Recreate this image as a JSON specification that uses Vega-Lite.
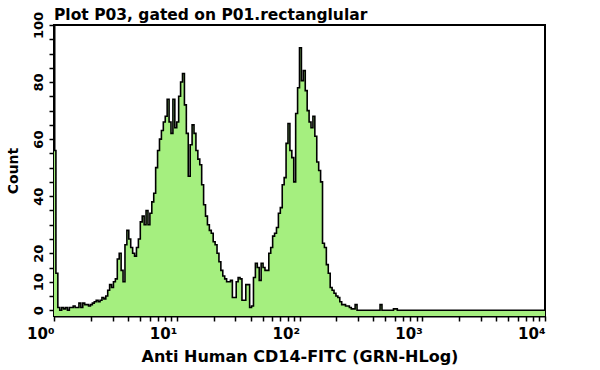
{
  "$schema": "https://vega.github.io/schema/vega-lite/v6.json",
  "autosize": {"type": "none"},
  "padding": {"left": 54, "top": 25, "right": 55, "bottom": 54},
  "width": 491,
  "height": 291,
  "background": "#ffffff",
  "title": {"text": "Plot P03, gated on P01.rectanglular", "anchor": "start", "frame": "group", "offset": 5, "dy": 17, "font": "DejaVu Sans", "fontSize": 15.5, "fontWeight": "bold", "color": "#000000"},
  "config": {
    "view": {"stroke": "#000000", "strokeWidth": 2},
    "axis": {"grid": false, "domainColor": "#000000", "domainWidth": 2, "tickColor": "#000000", "tickWidth": 1.5, "labelFont": "DejaVu Sans", "labelFontWeight": "bold", "labelColor": "#000000", "titleFont": "DejaVu Sans", "titleFontWeight": "bold", "titleColor": "#000000", "labelFlush": false, "labelOverlap": false}
  },
  "data": {"name": "hist"},
  "encoding": {
    "x": {"field": "ch", "type": "quantitative", "scale": {"domain": [0, 256], "nice": false, "zero": false},
      "axis": {"title": "Anti Human CD14-FITC (GRN-HLog)", "titleFontSize": 16, "titlePadding": 7, "labelOverlap": false, "labelBound": false, "labelSeparation": -100,
        "values": [0, 19.27, 30.54, 38.53, 44.73, 49.8, 54.09, 57.8, 61.07, 64, 83.27, 94.54, 102.53, 108.73, 113.8, 118.09, 121.8, 125.07, 128, 147.27, 158.54, 166.53, 172.73, 177.8, 182.09, 185.8, 189.07, 192, 211.27, 222.54, 230.53, 236.73, 241.8, 246.09, 249.8, 253.07, 256],
        "labelExpr": "datum.value === 0 ? '10⁰' : datum.value === 64 ? '10¹' : datum.value === 128 ? '10²' : datum.value === 192 ? '10³' : datum.value === 256 ? '10⁴' : ''", "labelFontSize": 15, "labelAlign": "right", "labelDx": 7, "labelPadding": 5, "tickSize": 5}},
    "y": {"field": "n", "type": "quantitative", "scale": {"domain": [-2, 100], "nice": false, "zero": false},
      "axis": {"title": "Count", "titleFontSize": 14, "titlePadding": 12, "labelOverlap": false, "labelSeparation": -100,
        "values": [0, 5, 10, 15, 20, 25, 30, 35, 40, 45, 50, 55, 60, 65, 70, 75, 80, 85, 90, 95, 100],
        "labelExpr": "indexof([0, 10, 20, 40, 60, 80, 100], datum.value) >= 0 ? datum.label : ''",
        "labelAngle": -90, "labelAlign": "center", "labelBaseline": "bottom", "labelFontSize": 13, "labelPadding": 4, "tickSize": 5}}
  },
  "layer": [
    {
      "mark": {"type": "area", "interpolate": "step-after", "color": "#a5ef7f"},
      "encoding": {"y2": {"datum": -2}}
    },
    {
      "mark": {"type": "line", "interpolate": "step-after", "color": "#000000", "strokeWidth": 1.6}
    }
  ],
  "datasets": {
    "hist": [
      {"ch":0,"n":56},{"ch":1,"n":13},{"ch":2,"n":1},{"ch":3,"n":0},{"ch":4,"n":1},{"ch":5,"n":0.5},{"ch":6,"n":1},{"ch":7,"n":0},{"ch":8,"n":1},{"ch":9,"n":1},
      {"ch":10,"n":1.5},{"ch":11,"n":1},{"ch":12,"n":1},{"ch":13,"n":2.5},{"ch":14,"n":1},{"ch":15,"n":2.5},{"ch":16,"n":2},{"ch":17,"n":2},{"ch":18,"n":1.5},{"ch":19,"n":2},
      {"ch":20,"n":2.5},{"ch":21,"n":3},{"ch":22,"n":3.5},{"ch":23,"n":3},{"ch":24,"n":3.5},{"ch":25,"n":4.5},{"ch":26,"n":4},{"ch":27,"n":5},{"ch":28,"n":7},{"ch":29,"n":9},
      {"ch":30,"n":8},{"ch":31,"n":10},{"ch":32,"n":11},{"ch":33,"n":18},{"ch":34,"n":20},{"ch":35,"n":14},{"ch":36,"n":10},{"ch":37,"n":23},{"ch":38,"n":28},{"ch":39,"n":25},
      {"ch":40,"n":22},{"ch":41,"n":20},{"ch":42,"n":19},{"ch":43,"n":22},{"ch":44,"n":25},{"ch":45,"n":31},{"ch":46,"n":33},{"ch":47,"n":30},{"ch":48,"n":35},{"ch":49,"n":30},
      {"ch":50,"n":34},{"ch":51,"n":38},{"ch":52,"n":41},{"ch":53,"n":50},{"ch":54,"n":56},{"ch":55,"n":60},{"ch":56,"n":63},{"ch":57,"n":66},{"ch":58,"n":68},{"ch":59,"n":74},
      {"ch":60,"n":66},{"ch":61,"n":62},{"ch":62,"n":74},{"ch":63,"n":64},{"ch":64,"n":66},{"ch":65,"n":75},{"ch":66,"n":80},{"ch":67,"n":83},{"ch":68,"n":72},{"ch":69,"n":62},
      {"ch":70,"n":47},{"ch":71,"n":58},{"ch":72,"n":65},{"ch":73,"n":62},{"ch":74,"n":56},{"ch":75,"n":53},{"ch":76,"n":51},{"ch":77,"n":44},{"ch":78,"n":37},{"ch":79,"n":33},
      {"ch":80,"n":30},{"ch":81,"n":28},{"ch":82,"n":27},{"ch":83,"n":24},{"ch":84,"n":23},{"ch":85,"n":20},{"ch":86,"n":17},{"ch":87,"n":14},{"ch":88,"n":12},{"ch":89,"n":11},
      {"ch":90,"n":10},{"ch":91,"n":10},{"ch":92,"n":10.5},{"ch":93,"n":4.5},{"ch":94,"n":4.5},{"ch":95,"n":10},{"ch":96,"n":11.5},{"ch":97,"n":11},{"ch":98,"n":3.5},{"ch":99,"n":3.5},
      {"ch":100,"n":9},{"ch":101,"n":9},{"ch":102,"n":1},{"ch":103,"n":1.5},{"ch":104,"n":11.5},{"ch":105,"n":16.5},{"ch":106,"n":15},{"ch":107,"n":10.5},{"ch":108,"n":16.5},{"ch":109,"n":15},
      {"ch":110,"n":14},{"ch":111,"n":14},{"ch":112,"n":20},{"ch":113,"n":22},{"ch":114,"n":26},{"ch":115,"n":27},{"ch":116,"n":29},{"ch":117,"n":34},{"ch":118,"n":36},{"ch":119,"n":44},
      {"ch":120,"n":46.5},{"ch":121,"n":58.5},{"ch":122,"n":65.5},{"ch":123,"n":56},{"ch":124,"n":53.5},{"ch":125,"n":45},{"ch":126,"n":69},{"ch":127,"n":78},{"ch":128,"n":92},{"ch":129,"n":80.5},
      {"ch":130,"n":84},{"ch":131,"n":77},{"ch":132,"n":70},{"ch":133,"n":66},{"ch":134,"n":64},{"ch":135,"n":68},{"ch":136,"n":61},{"ch":137,"n":52},{"ch":138,"n":49},{"ch":139,"n":45},
      {"ch":140,"n":23.5},{"ch":141,"n":22},{"ch":142,"n":16},{"ch":143,"n":13},{"ch":144,"n":8},{"ch":145,"n":7},{"ch":146,"n":6},{"ch":147,"n":5},{"ch":148,"n":4.5},{"ch":149,"n":3},
      {"ch":150,"n":2},{"ch":151,"n":2},{"ch":152,"n":1.5},{"ch":153,"n":1.5},{"ch":154,"n":1},{"ch":155,"n":0.5},{"ch":156,"n":0.5},{"ch":157,"n":2},{"ch":158,"n":0},{"ch":159,"n":0},
      {"ch":160,"n":0},{"ch":161,"n":0},{"ch":162,"n":0},{"ch":163,"n":0},{"ch":164,"n":0},{"ch":165,"n":0},{"ch":166,"n":0},{"ch":167,"n":0},{"ch":168,"n":0},{"ch":169,"n":0},
      {"ch":170,"n":2},{"ch":171,"n":0},{"ch":172,"n":0},{"ch":173,"n":0},{"ch":174,"n":0},{"ch":175,"n":0},{"ch":176,"n":0},{"ch":177,"n":0.5},{"ch":178,"n":0.5},{"ch":179,"n":0},
      {"ch":180,"n":0},{"ch":256,"n":0}
    ]
  }
}
